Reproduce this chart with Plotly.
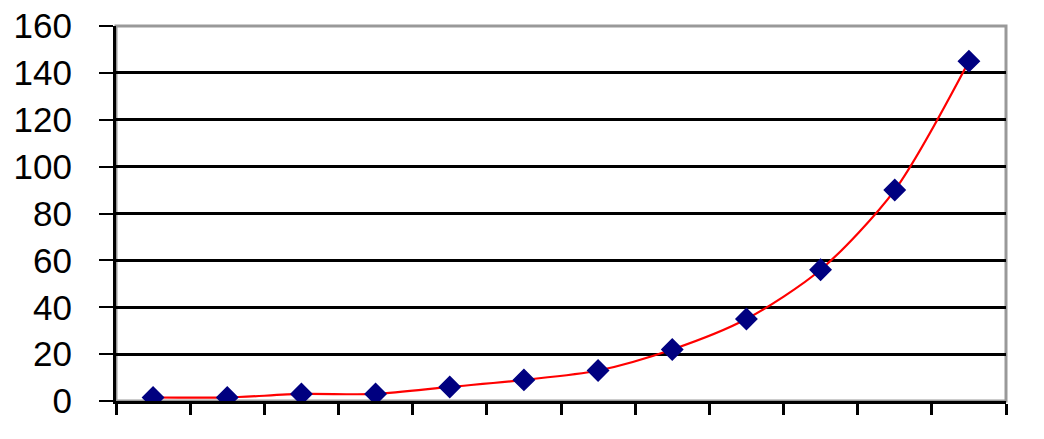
import plotly.graph_objects as go

categories = list(range(1, 13))
values = [1.5, 1.5, 3, 3, 6, 9, 13, 22, 35, 56, 90, 145]
y_ticks = [0, 20, 40, 60, 80, 100, 120, 140, 160]
x_boundaries = [c - 0.5 for c in categories] + [categories[-1] + 0.5]

fig = go.Figure()
fig.add_trace(go.Scatter(
    x=categories, y=values, mode="lines",
    line=dict(color="#FF0000", width=2.2, shape="spline", smoothing=0.8),
    hoverinfo="skip", showlegend=False))
fig.add_trace(go.Scatter(
    x=categories, y=values, mode="markers",
    marker=dict(symbol="diamond", size=16, color="#000080",
                line=dict(width=1.5, color="#000080")),
    showlegend=False))

fig.update_layout(
    width=1044, height=439,
    margin=dict(l=108, r=46, t=18, b=46, autoexpand=False),
    paper_bgcolor="white", plot_bgcolor="white",
    font=dict(family="Liberation Sans, Arial, sans-serif", size=35, color="black"),
    shapes=[dict(type="rect", xref="paper", yref="paper", x0=0, x1=1, y0=0, y1=1,
                 line=dict(color="#999999", width=3), layer="below")],
)
fig.update_xaxes(
    range=[x_boundaries[0], x_boundaries[-1]], automargin=False,
    tickmode="array", tickvals=x_boundaries, showticklabels=False,
    ticks="outside", ticklen=11, tickwidth=3, tickcolor="black",
    showgrid=False, zeroline=False,
    showline=True, linecolor="black", linewidth=3)
fig.update_yaxes(
    range=[0, 160], tickmode="array", tickvals=y_ticks, automargin=False,
    ticks="outside", ticklen=14, tickwidth=2, tickcolor="black",
    ticklabelstandoff=20, ticklabeloverflow="allow",
    showgrid=True, gridcolor="black", gridwidth=2.5,
    zeroline=False, showline=True, linecolor="black", linewidth=3)

fig.write_html("out.html")
